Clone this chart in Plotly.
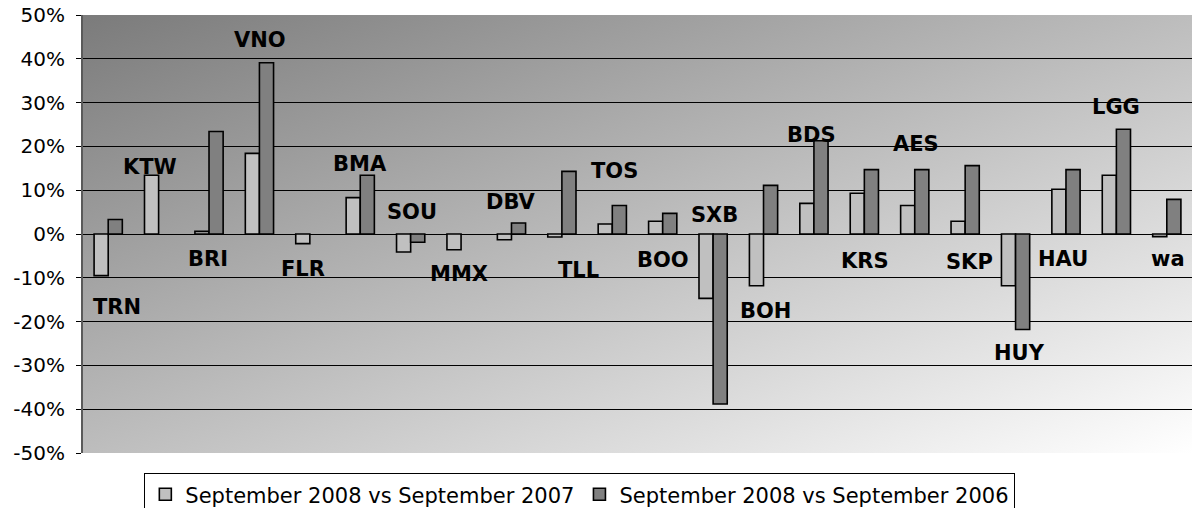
import base64
import plotly.graph_objects as go

categories = ["TRN", "KTW", "BRI", "VNO", "FLR", "BMA", "SOU", "MMX", "DBV", "TLL", "TOS",
              "BOO", "SXB", "BOH", "BDS", "KRS", "AES", "SKP", "HUY", "HAU", "LGG", "wa"]
series_names = ["September 2008 vs September 2007", "September 2008 vs September 2006"]
vs_2007 = [-0.095, 0.134, 0.006, 0.184, -0.022, 0.083, -0.041, -0.036, -0.013, -0.007, 0.023,
           0.029, -0.147, -0.118, 0.070, 0.093, 0.065, 0.029, -0.118, 0.102, 0.134, -0.006]
vs_2006 = [0.033, None, 0.234, 0.391, None, 0.134, -0.019, None, 0.025, 0.143, 0.065,
           0.047, -0.388, 0.111, 0.213, 0.147, 0.147, 0.156, -0.218, 0.147, 0.239, 0.079]
tick_vals = [-0.5, -0.4, -0.3, -0.2, -0.1, 0.0, 0.1, 0.2, 0.3, 0.4, 0.5]
tick_text = ["-50%", "-40%", "-30%", "-20%", "-10%", "0%", "10%", "20%", "30%", "40%", "50%"]

# label placement (category offset, value position)
label_dx = [0.18, -0.17, -0.02, 0.02, -0.13, 0.0, 0.03, -0.04, 0.0, 0.33, 0.04,
            0.01, 0.02, 0.04, -0.05, 0.02, 0.03, 0.08, 0.07, -0.05, 0.0, 0.03]
label_y = [-0.166, 0.152, -0.056, 0.444, -0.079, 0.159, 0.051, -0.092, 0.072, -0.083, 0.143,
           -0.060, 0.044, -0.175, 0.225, -0.062, 0.206, -0.065, -0.272, -0.056, 0.289, -0.058]

colors = ["#c0c0c0", "#808080"]

fig = go.Figure()
for name, vals, col in zip(series_names, [vs_2007, vs_2006], colors):
    fig.add_trace(go.Bar(
        x=categories, y=vals, name=name,
        marker=dict(color=col, line=dict(color="black", width=1.6)),
    ))

svg = ('<svg xmlns="http://www.w3.org/2000/svg" width="1000" height="400" viewBox="0 0 100 100" '
       'preserveAspectRatio="none"><defs><linearGradient id="g" x1="0" y1="0" x2="1" y2="1">'
       '<stop offset="0" stop-color="#7b7b7b"/><stop offset="1" stop-color="#ffffff"/>'
       '</linearGradient></defs><rect x="0" y="0" width="100" height="100" fill="url(#g)"/></svg>')
src = "data:image/svg+xml;base64," + base64.b64encode(svg.encode()).decode()

annotations = []
for i, (lab, dx, ly) in enumerate(zip(categories, label_dx, label_y)):
    annotations.append(dict(
        x=i + dx, y=ly, xref="x", yref="y", text=lab, showarrow=False,
        font=dict(family="DejaVu Sans", size=21, color="black", weight="bold"),
        xanchor="center", yanchor="middle",
    ))

fig.update_layout(
    width=1192, height=508,
    margin=dict(l=83, r=0, t=15, b=55, autoexpand=False),
    paper_bgcolor="white",
    plot_bgcolor="rgba(0,0,0,0)",
    barmode="group", bargap=0.44, bargroupgap=0,
    showlegend=True,
    legend=dict(orientation="h", x=0.448, xanchor="center", y=-0.046, yanchor="top",
                bgcolor="white", bordercolor="black", borderwidth=1,
                font=dict(family="DejaVu Sans", size=21, color="black"),
                itemwidth=30, tracegroupgap=0),
    images=[dict(source=src, xref="paper", yref="paper", x=0, y=1, sizex=1, sizey=1,
                 sizing="stretch", xanchor="left", yanchor="top", layer="below")],
    annotations=annotations,
    xaxis=dict(type="category", range=[-0.5, len(categories) - 0.5], showticklabels=False,
               showgrid=False, zeroline=False, showline=False, ticks="", automargin=False),
    yaxis=dict(range=[-0.5, 0.5], tickvals=tick_vals, ticktext=tick_text,
               showgrid=True, gridcolor="black", gridwidth=1,
               zeroline=True, zerolinecolor="black", zerolinewidth=1,
               showline=True, linecolor="#5a5a5a", linewidth=2,
               ticks="outside", ticklen=5, tickcolor="black", ticklabelstandoff=7,
               automargin=False,
               tickfont=dict(family="DejaVu Sans", size=20, color="black")),
)

fig.write_html("out.html", config={"displayModeBar": False},
               post_script="document.body.style.margin='0';document.body.style.overflow='hidden';")
